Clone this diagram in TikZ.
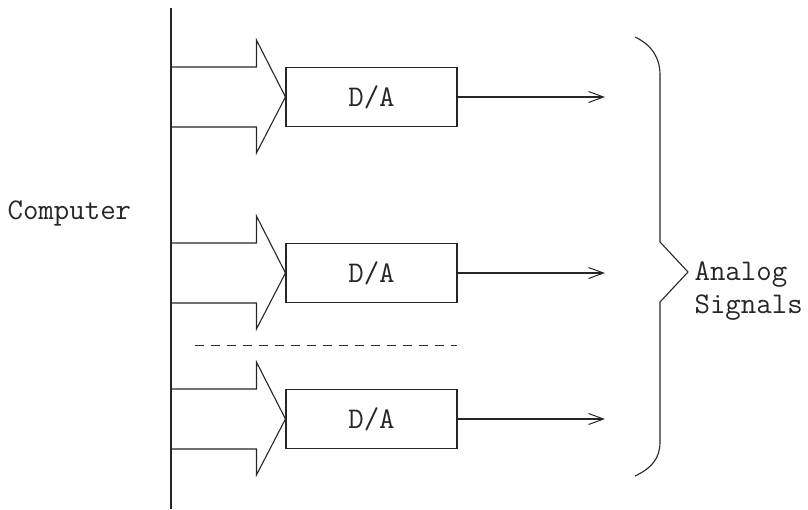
\documentclass[tikz,border=0pt]{standalone}
\usetikzlibrary{arrows.meta,calc}
\begin{document}
\begin{tikzpicture}[x=1pt,y=-1pt,line width=1.1pt,draw=black!85,
  lbl/.style={font=\ttfamily\fontsize{30}{33}\selectfont,inner sep=0pt,text=black!85},
  dabox/.style={draw,lbl,minimum width=171pt,minimum height=59pt},
  sigout/.style={-{Straight Barb[length=15pt,width=11pt,line width=1pt]}},
  bigarrow/.style={line join=miter},
  sep/.style={line width=1pt,dash pattern=on 9pt off 7pt}]
\useasboundingbox (0,0) rectangle (808,509);

% computer data bus
\coordinate (bustop) at (171,8);
\coordinate (busbot) at (171,509);
\draw (bustop) -- (busbot);
\node[lbl,anchor=west] (comp) at (7,213) {Computer};

% converters with their wide input arrows and analog outputs
\foreach \i/\y in {1/97,2/273,3/419}{
  \node[dabox] (da\i) at (371.5,\y) {D/A};
  \draw[bigarrow] ($(da\i.west)+(-115,-30)$) -- ++(86,0) -- ++(0,-27)
    -- (da\i.west) -- ++(-29,56) -- ++(0,-26) -- ++(-86,0);
  \coordinate (out\i) at (605,\y);
  \draw[sigout] (da\i.east) -- (out\i);
}

% more converters follow
\coordinate (sepL) at (195,345);
\coordinate (sepR) at (457,345);
\draw[sep] (sepL) -- (sepR);

% brace grouping the outputs
\coordinate (brtip) at (688,272);
\draw[line join=round] (635,37) .. controls (652,45) and (660,58) .. (660,75)
  -- (660,242) -- (brtip) -- (660,302) -- (660,442)
  .. controls (660,458) and (652,468) .. (635,476);
\node[lbl,anchor=west,align=left] (sig) at (694,291) {Analog\\Signals};
\end{tikzpicture}
\end{document}
